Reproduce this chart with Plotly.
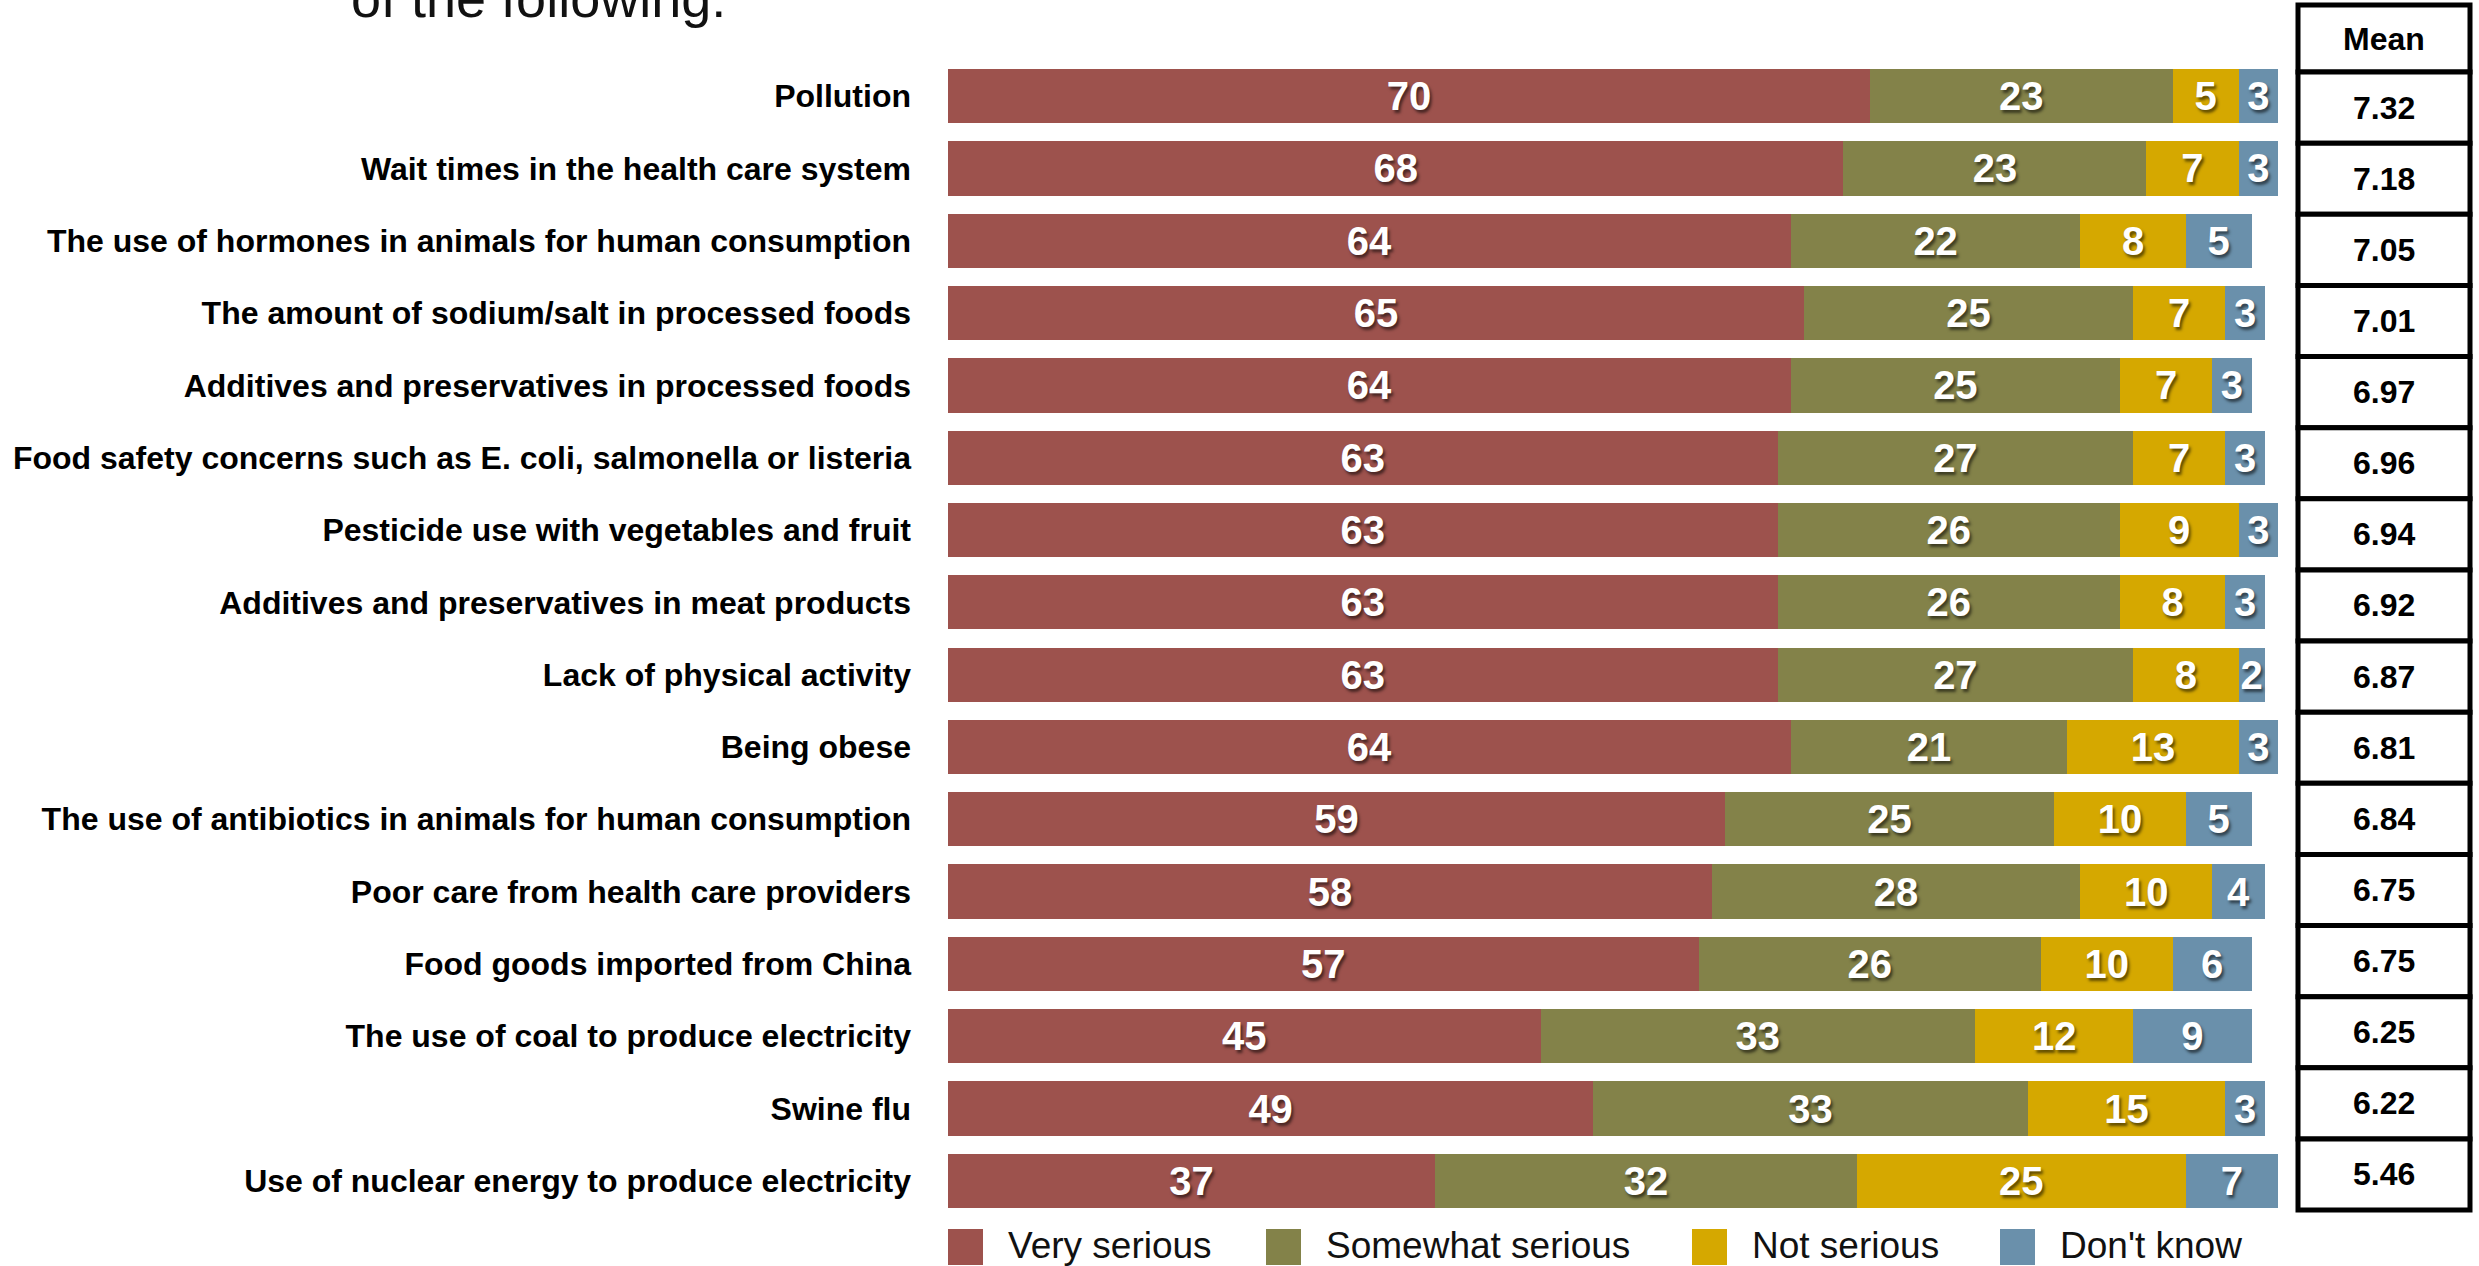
import plotly.graph_objects as go

# Survey items, top to bottom
items = [
    "Pollution",
    "Wait times in the health care system",
    "The use of hormones in animals for human consumption",
    "The amount of sodium/salt in processed foods",
    "Additives and preservatives in processed foods",
    "Food safety concerns such as E. coli, salmonella or listeria",
    "Pesticide use with vegetables and fruit",
    "Additives and preservatives in meat products",
    "Lack of physical activity",
    "Being obese",
    "The use of antibiotics in animals for human consumption",
    "Poor care from health care providers",
    "Food goods imported from China",
    "The use of coal to produce electricity",
    "Swine flu",
    "Use of nuclear energy to produce electricity",
]

very_serious = [70, 68, 64, 65, 64, 63, 63, 63, 63, 64, 59, 58, 57, 45, 49, 37]
somewhat_serious = [23, 23, 22, 25, 25, 27, 26, 26, 27, 21, 25, 28, 26, 33, 33, 32]
not_serious = [5, 7, 8, 7, 7, 7, 9, 8, 8, 13, 10, 10, 10, 12, 15, 25]
dont_know = [3, 3, 5, 3, 3, 3, 3, 3, 2, 3, 5, 4, 6, 9, 3, 7]

means = ["7.32", "7.18", "7.05", "7.01", "6.97", "6.96", "6.94", "6.92",
         "6.87", "6.81", "6.84", "6.75", "6.75", "6.25", "6.22", "5.46"]

series_names = ["Very serious", "Somewhat serious", "Not serious", "Don't know"]
series_values = [very_serious, somewhat_serious, not_serious, dont_know]
series_colors = ["#9D524D", "#838249", "#D5A800", "#6A90AB"]

FONT = "Liberation Sans, Arial, Helvetica, sans-serif"

# Figure geometry (pixels)
W, H = 2479, 1266
ML, MR, MT, MB = 948, 201, 60, 49
PW, PH = W - ML - MR, H - MT - MB


def px_x(px):
    return (px - ML) / PW


def px_y(py):
    return (H - MB - py) / PH


fig = go.Figure()

for name, vals, color in zip(series_names, series_values, series_colors):
    fig.add_trace(go.Bar(
        y=items,
        x=vals,
        name=name,
        orientation="h",
        marker=dict(color=color, line=dict(width=0)),
        text=[str(v) for v in vals],
        textposition="inside",
        insidetextanchor="middle",
        constraintext="none",
        textfont=dict(family=FONT, size=40, color="white", weight="bold",
                      shadow="2px 3px 3px rgba(0,0,0,0.55)"),
        hoverinfo="skip",
        showlegend=False,
    ))

shapes = []
annotations = []

# Mean table on the right
tx0, tx1 = 2298, 2470
head_top, head_bot = 5, 72
rows_top, rows_bot = 72, 1210
row_h = (rows_bot - rows_top) / len(means)
cell_line = dict(color="black", width=5)
cell_font = dict(family=FONT, size=32, color="black")

shapes.append(dict(type="rect", xref="paper", yref="paper",
                   x0=px_x(tx0), x1=px_x(tx1), y0=px_y(head_bot), y1=px_y(head_top),
                   line=cell_line, fillcolor="white", layer="above"))
annotations.append(dict(xref="paper", yref="paper",
                        x=px_x((tx0 + tx1) / 2), y=px_y((head_top + head_bot) / 2),
                        xanchor="center", yanchor="middle",
                        text="<b>Mean</b>", showarrow=False, font=cell_font))
for i, m in enumerate(means):
    y0 = rows_top + i * row_h
    y1 = y0 + row_h
    shapes.append(dict(type="rect", xref="paper", yref="paper",
                       x0=px_x(tx0), x1=px_x(tx1), y0=px_y(y1), y1=px_y(y0),
                       line=cell_line, fillcolor="white", layer="above"))
    annotations.append(dict(xref="paper", yref="paper",
                            x=px_x((tx0 + tx1) / 2), y=px_y((y0 + y1) / 2),
                            xanchor="center", yanchor="middle",
                            text=f"<b>{m}</b>", showarrow=False, font=cell_font))

# Legend along the bottom
legend_sq = [948, 1266, 1692, 2000]
for name, color, lx in zip(series_names, series_colors, legend_sq):
    shapes.append(dict(type="rect", xref="paper", yref="paper",
                       x0=px_x(lx), x1=px_x(lx + 35), y0=px_y(1265), y1=px_y(1229),
                       line=dict(width=0), fillcolor=color))
    annotations.append(dict(xref="paper", yref="paper",
                            x=px_x(lx + 58), y=px_y(1245), xanchor="left", yanchor="middle",
                            text=name, showarrow=False,
                            font=dict(family=FONT, size=37, color="#111111")))

# Title line at the very top
annotations.append(dict(xref="paper", yref="paper",
                        x=px_x(349), y=px_y(-2), xanchor="left", yanchor="middle",
                        text="of the following:", showarrow=False,
                        font=dict(family=FONT, size=54, color="#111111")))

fig.update_layout(
    width=W, height=H,
    margin=dict(l=ML, r=MR, t=MT, b=MB),
    barmode="stack",
    bargap=0.25,
    plot_bgcolor="white",
    paper_bgcolor="white",
    shapes=shapes,
    annotations=annotations,
    xaxis=dict(range=[0, 101], visible=False, fixedrange=True),
    yaxis=dict(autorange="reversed", showgrid=False, zeroline=False, showline=False,
               ticks="", ticklabelstandoff=36,
               tickfont=dict(family=FONT, size=32, color="black", weight="bold")),
)

fig.write_html("out.html")
